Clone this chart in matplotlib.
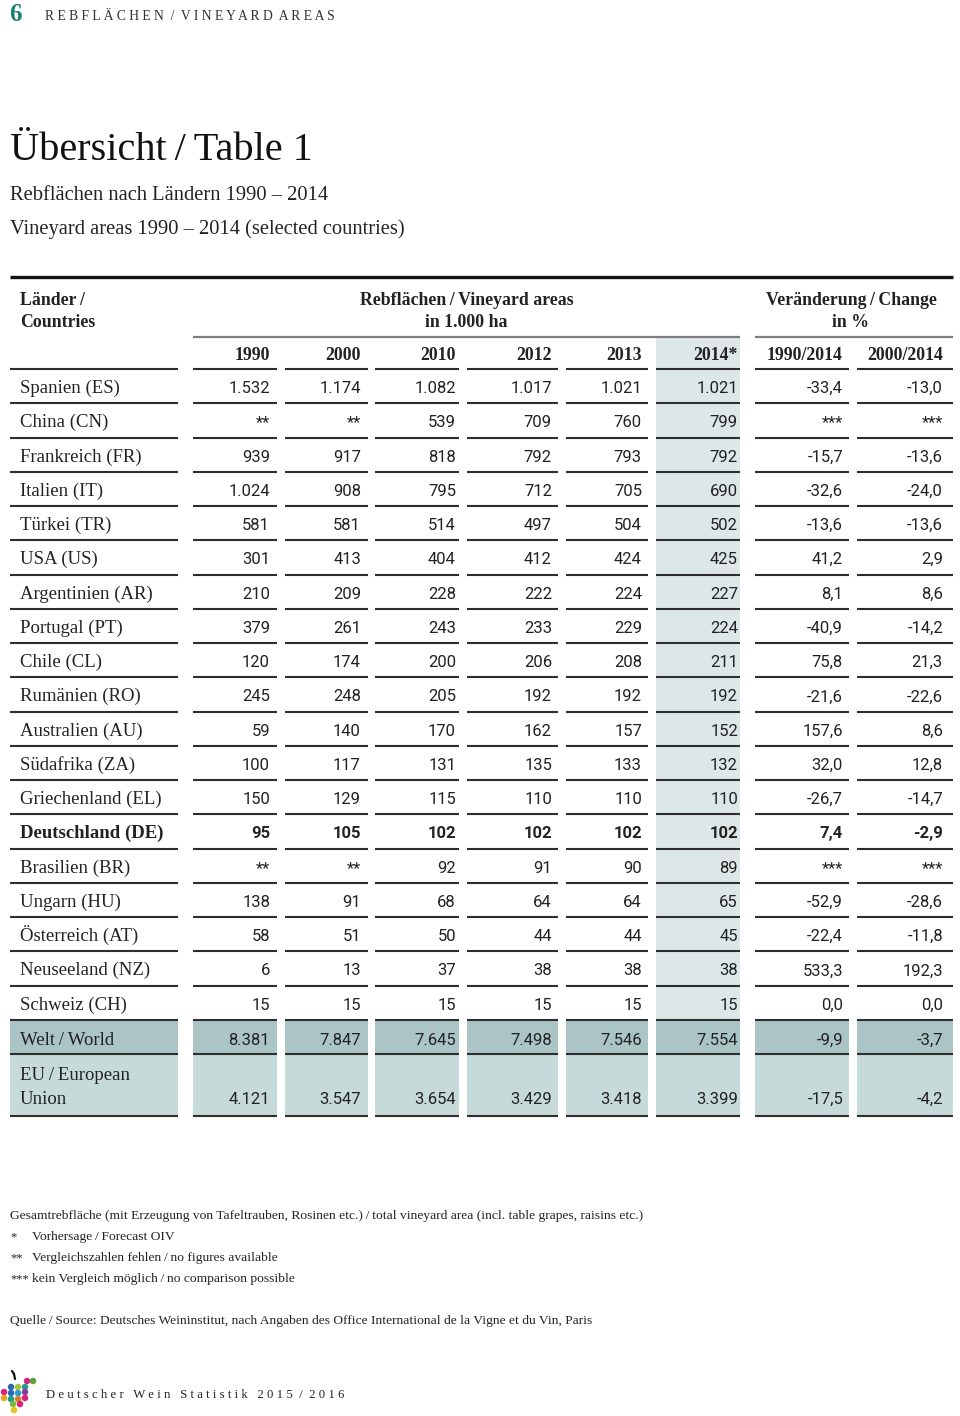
import matplotlib
matplotlib.use("Agg")
import matplotlib.pyplot as plt
import numpy as np

# --- data (1.000 ha, change in %) ---
countries = ["Spanien (ES)", "China (CN)", "Frankreich (FR)", "Italien (IT)", "Türkei (TR)",
             "USA (US)", "Argentinien (AR)", "Portugal (PT)", "Chile (CL)", "Rumänien (RO)",
             "Australien (AU)", "Südafrika (ZA)", "Griechenland (EL)", "Deutschland (DE)",
             "Brasilien (BR)", "Ungarn (HU)", "Österreich (AT)", "Neuseeland (NZ)", "Schweiz (CH)"]
years = ["1990", "2000", "2010", "2012", "2013", "2014*"]
change_labels = ["1990/2014", "2000/2014"]

nan = np.nan
v1990 = [1532, nan, 939, 1024, 581, 301, 210, 379, 120, 245, 59, 100, 150, 95, nan, 138, 58, 6, 15]
v2000 = [1174, nan, 917, 908, 581, 413, 209, 261, 174, 248, 140, 117, 129, 105, nan, 91, 51, 13, 15]
v2010 = [1082, 539, 818, 795, 514, 404, 228, 243, 200, 205, 170, 131, 115, 102, 92, 68, 50, 37, 15]
v2012 = [1017, 709, 792, 712, 497, 412, 222, 233, 206, 192, 162, 135, 110, 102, 91, 64, 44, 38, 15]
v2013 = [1021, 760, 793, 705, 504, 424, 224, 229, 208, 192, 157, 133, 110, 102, 90, 64, 44, 38, 15]
v2014 = [1021, 799, 792, 690, 502, 425, 227, 224, 211, 192, 152, 132, 110, 102, 89, 65, 45, 38, 15]
ch1990 = [-33.4, nan, -15.7, -32.6, -13.6, 41.2, 8.1, -40.9, 75.8, -21.6, 157.6, 32.0, -26.7, 7.4,
          nan, -52.9, -22.4, 533.3, 0.0]
ch2000 = [-13.0, nan, -13.6, -24.0, -13.6, 2.9, 8.6, -14.2, 21.3, -22.6, 8.6, 12.8, -14.7, -2.9,
          nan, -28.6, -11.8, 192.3, 0.0]

world = [8381, 7847, 7645, 7498, 7546, 7554, -9.9, -3.7]
eu = [4121, 3547, 3654, 3429, 3418, 3399, -17.5, -4.2]
bold_row = "Deutschland (DE)"


def fmt_area(v):
    if np.isnan(v):
        return "**"
    return f"{int(v):,}".replace(",", ".")


def fmt_pct(v):
    if np.isnan(v):
        return "***"
    return f"{v:.1f}".replace(".", ",")


SERIF = ["Liberation Serif", "DejaVu Serif"]
NUM = ["Roboto", "DejaVu Sans"]
LINE = "#2e2e2e"
TXT = "#222222"
SHADE = "#dde7e7"
WORLD_C = "#abc4c5"
EU_C = "#c6dbd9"
S = "\u2009/\u2009"

fig = plt.figure(figsize=(9.6, 14.16), dpi=100)
ax = fig.add_axes([0, 0, 1, 1])
ax.set_xlim(0, 960)
ax.set_ylim(1416, 0)
ax.axis("off")

# column geometry (pixels)
col_l = [10, 193, 285, 375, 467, 566, 656, 755, 857]
col_r = [178, 277, 368, 459, 558, 648, 740, 849, 953]
txt_r = [None, 270, 361, 456, 552, 642, 738, 843, 943]

row_top = 369
row_h = 34.26
n = len(countries)
world_top = row_top + n * row_h
eu_top = world_top + row_h
eu_bot = 1116

# shading
ax.add_patch(plt.Rectangle((col_l[6], 337), col_r[6] - col_l[6], world_top - 337, color=SHADE, lw=0))
for i in range(9):
    ax.add_patch(plt.Rectangle((col_l[i], world_top), col_r[i] - col_l[i], row_h, color=WORLD_C, lw=0))
    ax.add_patch(plt.Rectangle((col_l[i], eu_top), col_r[i] - col_l[i], eu_bot - eu_top, color=EU_C, lw=0))

# header lines
ax.hlines(277, 10, 953, color="#111111", lw=2.4)
ax.hlines(337, 193, 740, color="#7d7d7d", lw=1.6)
ax.hlines(337, 755, 953, color="#7d7d7d", lw=1.6)

# row lines
boundaries = [row_top + k * row_h for k in range(n + 2)] + [eu_bot]
for y in boundaries:
    for l, r in zip(col_l, col_r):
        ax.hlines(y, l, r, color=LINE, lw=1.5)

# header texts
hk = dict(family=SERIF, fontsize=12.8, fontweight="bold", color=TXT)
ax.text(20, 305, "Länder" + "\u2009/", **hk)
ax.text(20, 327, "Countries", **hk)
ax.text(467, 305, "Rebflächen" + S + "Vineyard areas", ha="center", **hk)
ax.text(466, 327, "in 1.000 ha", ha="center", **hk)
ax.text(851, 305, "Veränderung" + S + "Change", ha="center", **hk)
ax.text(851, 327, "in %", ha="center", **hk)
for j, lab in enumerate(years + change_labels):
    ax.text(txt_r[j + 1], 360, lab, ha="right", **hk)

# data rows
area_cols = [v1990, v2000, v2010, v2012, v2013, v2014]
pct_cols = [ch1990, ch2000]
for i, name in enumerate(countries):
    base = row_top + i * row_h + 24
    w = "bold" if name == bold_row else "normal"
    ax.text(20, base, name, family=SERIF, fontsize=13.5, fontweight=w, color=TXT)
    for j, col in enumerate(area_cols):
        ax.text(txt_r[j + 1], base, fmt_area(col[i]), family=NUM, fontsize=12, fontweight=w,
                ha="right", color=TXT)
    for j, col in enumerate(pct_cols):
        ax.text(txt_r[j + 7], base, fmt_pct(col[i]), family=NUM, fontsize=12, fontweight=w,
                ha="right", color=TXT)

# world / EU rows
base_w = world_top + 25
ax.text(20, base_w, "Welt" + S + "World", family=SERIF, fontsize=13.5, color=TXT)
ax.text(20, eu_top + 26, "EU" + S + "European", family=SERIF, fontsize=13.5, color=TXT)
ax.text(20, eu_bot - 12, "Union", family=SERIF, fontsize=13.5, color=TXT)
for j in range(8):
    fw = fmt_area if j < 6 else fmt_pct
    ax.text(txt_r[j + 1], base_w, fw(world[j]), family=NUM, fontsize=12, ha="right", color=TXT)
    ax.text(txt_r[j + 1], eu_bot - 12, fw(eu[j]), family=NUM, fontsize=12, ha="right", color=TXT)

# page header
ax.text(9, 21, "6", family=SERIF, fontsize=18, fontweight="bold", color="#1b7f72")
ax.text(45, 20, "R E B F L Ä C H E N  /  V I N E Y A R D  A R E A S", family=SERIF, fontsize=9.8,
        color="#333333")

# title
ax.text(10, 160, "Übersicht" + S + "Table 1", family=SERIF, fontsize=29, color="#111111")
ax.text(10, 200, "Rebflächen nach Ländern 1990 – 2014", family=SERIF, fontsize=14.8, color=TXT)
ax.text(10, 234, "Vineyard areas 1990 – 2014 (selected countries)", family=SERIF, fontsize=14.8,
        color=TXT)

# footnotes
nk = dict(family=SERIF, fontsize=9.7, color=TXT)
ax.text(10, 1219, "Gesamtrebfläche (mit Erzeugung von Tafeltrauben, Rosinen etc.)" + S
        + "total vineyard area (incl. table grapes, raisins etc.)", **nk)
marks = ["*", "**", "***"]
mark_txt = ["Vorhersage" + S + "Forecast OIV",
            "Vergleichszahlen fehlen" + S + "no figures available",
            "kein Vergleich möglich" + S + "no comparison possible"]
for k, (m, t) in enumerate(zip(marks, mark_txt)):
    y = 1240 + 21 * k
    ax.text(10, y, m, family=SERIF, fontsize=9, color=TXT)
    ax.text(32, y, t, **nk)
ax.text(10, 1324, "Quelle" + S + "Source: Deutsches Weininstitut, nach Angaben des Office International "
        "de la Vigne et du Vin, Paris", **nk)

# footer logo + text
dots_x = [27, 33, 11, 18, 25, 4, 11, 18, 25, 4, 11, 18, 25, 13, 20, 14]
dots_y = [1381, 1381, 1387, 1387, 1387, 1392, 1393, 1393, 1392, 1398, 1399, 1399, 1398, 1404, 1404, 1410]
dots_c = ["#d6247b", "#5aa03c", "#2a6ab0", "#a5c43a", "#1f9a8f", "#d6247b", "#2a6ab0", "#2a9ad0",
          "#8a3b96", "#e8a21b", "#1f9a8f", "#e07a1f", "#d6247b", "#7ab83a", "#d6247b", "#e8c21b"]
ax.scatter(dots_x, dots_y, s=22, c=dots_c, linewidths=0)
ax.plot([12, 14, 15], [1371, 1374, 1379], color="#111111", lw=1.6, solid_capstyle="round")
ax.text(46, 1398, "D e u t s c h e r   W e i n   S t a t i s t i k   2 0 1 5  /  2 0 1 6", family=SERIF,
        fontsize=9.2, color=TXT)

fig.savefig("out.png", dpi=100)
